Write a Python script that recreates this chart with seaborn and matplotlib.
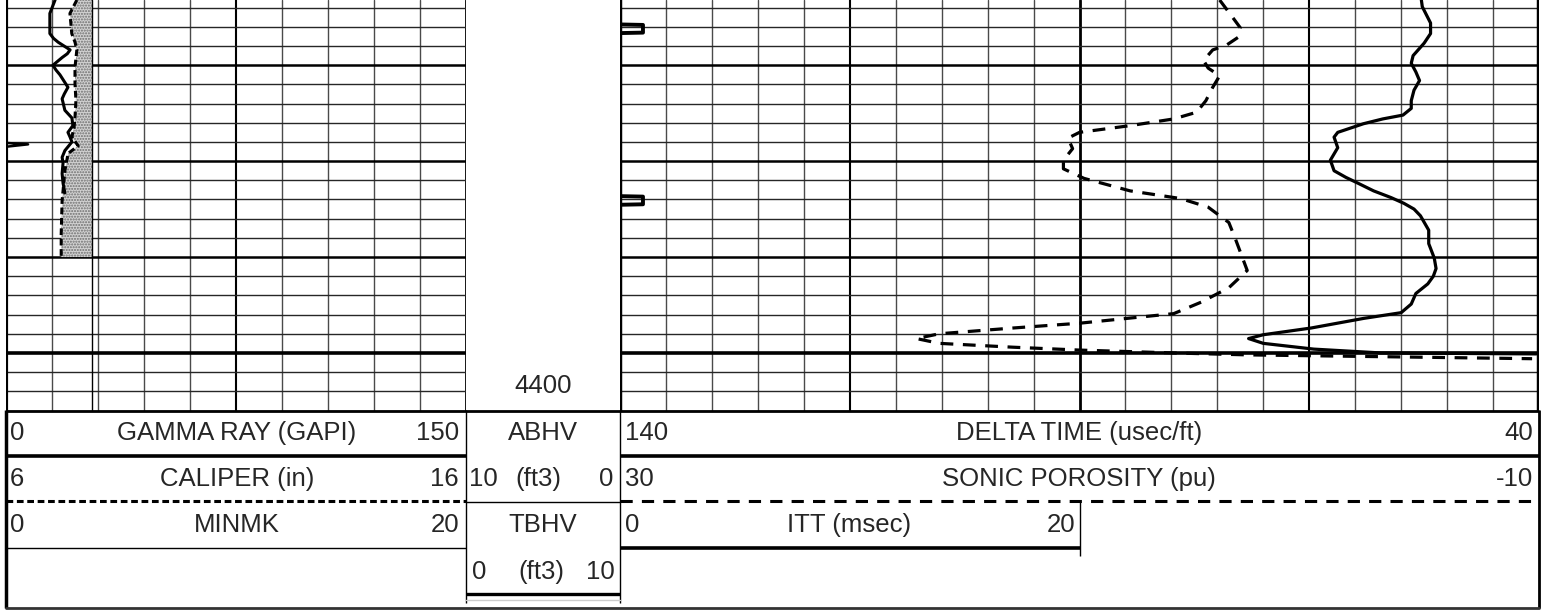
import numpy as np
import matplotlib.pyplot as plt
import seaborn as sns

sns.set_style('white')
plt.rcParams['font.family'] = ['Liberation Sans', 'DejaVu Sans']

# depth window (ft)
top_depth = 4363.2
bottom_depth = 4406.0

# track 1 curves
gr_depth = [4363.2, 4364.6, 4366.7, 4367.2, 4367.6, 4368.4, 4368.8, 4369.2, 4370.0, 4370.5,
            4371.0, 4372.3, 4373.0, 4373.5, 4374.7, 4375.5, 4376.3, 4377.0, 4377.5, 4378.0,
            4378.9, 4379.6, 4380.2, 4381.3, 4382.3, 4383.3]
gr_value = [16.0, 14.3, 14.3, 15.5, 17.0, 20.9, 20.0, 18.3, 15.3, 16.3,
            17.6, 20.2, 19.0, 18.3, 19.2, 21.5, 21.8, 20.2, 20.9, 21.5,
            19.2, 18.3, 18.6, 18.3, 18.6, 19.2]

cal_depth = [4363.2, 4364.6, 4366.7, 4367.6, 4368.4, 4370.2, 4371.9, 4373.7, 4375.4, 4376.5,
             4377.5, 4378.4, 4379.2, 4381.0, 4383.1, 4384.1, 4387.6, 4390.0]
cal_value = [7.54, 7.39, 7.43, 7.50, 7.54, 7.50, 7.50, 7.52, 7.50, 7.48,
             7.43, 7.57, 7.35, 7.28, 7.24, 7.22, 7.20, 7.20]
bit_size = 7.875

minmk_depth = [4363.2, 4378.1, 4378.25, 4378.5, 4406.0]
minmk_value = [0, 0, 0.96, 0, 0]

# track 3 curves
dt_depth = [4363.2, 4363.9, 4365.6, 4366.7, 4367.7, 4369.0, 4369.8, 4370.7, 4371.6, 4372.6,
            4373.7, 4374.5, 4375.2, 4375.6, 4376.1, 4377.0, 4377.5, 4378.6, 4379.9, 4381.0,
            4381.7, 4382.3, 4383.1, 4383.8, 4384.4, 4385.0, 4385.7, 4387.2, 4388.6, 4390.1,
            4391.2, 4392.0, 4392.8, 4393.8, 4394.9, 4395.8, 4396.4, 4397.4, 4398.1, 4398.5,
            4399.0, 4399.6, 4400.0, 4400.1]
dt_value = [52.8, 52.7, 51.8, 51.8, 52.5, 53.7, 53.9, 53.4, 53.0, 53.6,
            53.9, 53.9, 54.8, 57.0, 59.1, 61.9, 62.3, 61.9, 62.7, 62.3,
            61.0, 59.7, 58.0, 56.1, 54.7, 53.6, 52.9, 52.0, 52.0, 51.4,
            51.2, 51.5, 52.1, 53.4, 53.9, 55.0, 59.1, 64.8, 70.0, 71.6,
            70.0, 64.5, 57.2, 40.3]

sphi_depth = [4363.2, 4364.8, 4366.1, 4367.1, 4367.9, 4368.4, 4369.5, 4370.3, 4371.1, 4372.3,
              4373.7, 4374.9, 4375.6, 4376.3, 4377.0, 4377.6, 4378.7, 4379.9, 4380.8, 4381.8,
              4383.1, 4383.9, 4384.8, 4386.4, 4388.2, 4391.4, 4393.2, 4394.7, 4395.9, 4396.9,
              4397.4, 4398.0, 4398.5, 4399.0, 4399.4, 4399.7, 4400.0, 4400.2, 4400.6]
sphi_value = [3.9, 3.4, 3.0, 3.1, 3.6, 4.2, 4.6, 4.4, 3.9, 4.2,
              4.5, 4.9, 5.9, 7.8, 10.0, 10.5, 10.3, 10.7, 10.7, 9.8,
              7.8, 5.6, 4.4, 3.5, 3.2, 2.7, 3.5, 4.7, 5.9, 10.0,
              12.9, 16.1, 17.1, 16.1, 12.9, 10.0, 5.9, 2.7, -9.7]

itt_pip_depth = [4366.2, 4384.1]
itt_pip_value = [1.0, 1.0]

W, H = 1553, 610
fig = plt.figure(figsize=(W / 100, H / 100), dpi=100)


def box(x0, x1, y0, y1):
    return [x0 / W, 1 - y1 / H, (x1 - x0) / W, (y1 - y0) / H]


def grid_track(ax, ndiv):
    ax.set_xlim(0, ndiv)
    ax.set_ylim(bottom_depth, top_depth)
    for i in range(ndiv + 1):
        if i % 10 == 0:
            ax.axvline(i, color='black', lw=2.0, zorder=1)
        elif i % 5 == 0:
            ax.axvline(i, color='black', lw=1.5, zorder=1)
        else:
            ax.axvline(i, color='#4a4a4a', lw=1.0, zorder=1)
    for d in range(4364, 4407, 2):
        if d % 100 == 0:
            ax.axhline(d, color='black', lw=2.6, zorder=1)
        elif d % 10 == 0:
            ax.axhline(d, color='black', lw=1.8, zorder=1)
        else:
            ax.axhline(d, color='#262626', lw=1.0, zorder=1)


def clean(ax):
    ax.set_xticks([])
    ax.set_yticks([])
    ax.set_xlabel('')
    ax.set_ylabel('')
    for s in ax.spines.values():
        s.set_visible(False)
    ax.patch.set_alpha(0)


# ---- track 1 ----
ax1 = fig.add_axes(box(6, 466, 0, 410.5))
grid_track(ax1, 10)
ax1.axvline(0, color='black', lw=3.0, zorder=2)
clean(ax1)

ax_cal = ax1.twiny()
ax_cal.set_xlim(6, 16)
ax_cal.fill_betweenx(cal_depth, cal_value, bit_size, facecolor='#d2d2d2',
                     edgecolor='#6e6e6e', hatch='......', linewidth=0, zorder=2)
ax_cal.axvline(bit_size, color='black', lw=1.0, zorder=3)
sns.lineplot(x=cal_value, y=cal_depth, ax=ax_cal, sort=False, estimator=None,
             color='black', lw=2.2, linestyle=(0, (2.2, 1.2)), legend=False, zorder=4)
ax_cal.set_ylim(bottom_depth, top_depth)
clean(ax_cal)

ax_gr = ax1.twiny()
ax_gr.set_xlim(0, 150)
sns.lineplot(x=gr_value, y=gr_depth, ax=ax_gr, sort=False, estimator=None,
             color='black', lw=2.2, legend=False, zorder=4)
ax_gr.set_ylim(bottom_depth, top_depth)
clean(ax_gr)

ax_mm = ax1.twiny()
ax_mm.set_xlim(0, 20)
sns.lineplot(x=minmk_value, y=minmk_depth, ax=ax_mm, sort=False, estimator=None,
             color='black', lw=1.8, legend=False, zorder=4)
ax_mm.set_ylim(bottom_depth, top_depth)
clean(ax_mm)

fs = 18.5

# ---- depth track ----
axd = fig.add_axes(box(466, 620, 0, 410.5))
axd.set_xlim(0, 1)
axd.set_ylim(bottom_depth, top_depth)
axd.text(0.5, 4403.45, '4400', ha='center', va='center', fontsize=fs)
clean(axd)

# ---- track 3 ----
ax3 = fig.add_axes(box(620, 1539, 0, 410.5))
grid_track(ax3, 20)
ax3.axvline(0, color='black', lw=3.2, zorder=2)
ax3.axvline(20, color='black', lw=3.2, zorder=2)
clean(ax3)

ax_dt = ax3.twiny()
ax_dt.set_xlim(140, 40)
sns.lineplot(x=dt_value, y=dt_depth, ax=ax_dt, sort=False, estimator=None,
             color='black', lw=2.3, legend=False, zorder=4)
ax_dt.set_ylim(bottom_depth, top_depth)
clean(ax_dt)

ax_sp = ax3.twiny()
ax_sp.set_xlim(30, -10)
sns.lineplot(x=sphi_value, y=sphi_depth, ax=ax_sp, sort=False, estimator=None,
             color='black', lw=2.3, linestyle=(0, (4, 3)), legend=False, zorder=4)
ax_sp.set_ylim(bottom_depth, top_depth)
clean(ax_sp)

ax_itt = ax3.twiny()
ax_itt.set_xlim(0, 40)
for d, v in zip(itt_pip_depth, itt_pip_value):
    ax_itt.plot([0, v, v, 0], [d - 0.45, d - 0.4, d + 0.4, d + 0.45],
                color='black', lw=2.8, solid_joinstyle='round', zorder=4)
ax_itt.set_ylim(bottom_depth, top_depth)
clean(ax_itt)

# ---- header ----
hdr = fig.add_axes([0, 0, 1, 1])
hdr.set_xlim(0, W)
hdr.set_ylim(H, 0)
hdr.axis('off')
hdr.patch.set_alpha(0)

k = dict(color='black', solid_capstyle='butt')
hdr.plot([6, 1539], [410.5, 410.5], lw=2.0, **k)
hdr.plot([6, 6], [410, 608], lw=2.5, **k)
hdr.plot([1539, 1539], [410, 608], lw=2.0, **k)
hdr.plot([6, 1539], [607.5, 607.5], lw=2.0, color='#333333')
# track 1 rows
hdr.plot([6, 466], [455.5, 455.5], lw=2.6, **k)
hdr.plot([6, 466], [501, 501], lw=2.2, color='black', linestyle=(0, (2.2, 1.2)))
hdr.plot([6, 466], [548, 548], lw=1.0, **k)
# depth track
hdr.plot([466, 466], [410, 603], lw=1.0, **k)
hdr.plot([620, 620], [410, 603], lw=1.0, **k)
hdr.plot([466, 620], [501.5, 501.5], lw=1.0, **k)
hdr.plot([466, 620], [594, 594], lw=2.4, **k)
hdr.plot([466, 620], [600, 600], lw=1.0, color='#cccccc')
# track 3 rows
hdr.plot([620, 1539], [455.5, 455.5], lw=2.6, **k)
hdr.plot([620, 1539], [501, 501], lw=2.2, color='black', linestyle=(0, (4, 3)))
hdr.plot([620, 1080], [547.5, 547.5], lw=2.6, **k)
hdr.plot([1080, 1080], [501, 556], lw=1.0, **k)

rows = [(433, 'GAMMA RAY (GAPI)', '0', '150'),
        (479, 'CALIPER (in)', '6', '16'),
        (525, 'MINMK', '0', '20')]
for y, name, lo, hi in rows:
    hdr.text(10, y, lo, ha='left', va='center', fontsize=fs)
    hdr.text(237, y, name, ha='center', va='center', fontsize=fs)
    hdr.text(459, y, hi, ha='right', va='center', fontsize=fs)

hdr.text(543, 433, 'ABHV', ha='center', va='center', fontsize=fs)
hdr.text(469, 479, '10', ha='left', va='center', fontsize=fs)
hdr.text(538, 479, '(ft3)', ha='center', va='center', fontsize=fs)
hdr.text(613, 479, '0', ha='right', va='center', fontsize=fs)
hdr.text(543, 525, 'TBHV', ha='center', va='center', fontsize=fs)
hdr.text(472, 572, '0', ha='left', va='center', fontsize=fs)
hdr.text(541, 572, '(ft3)', ha='center', va='center', fontsize=fs)
hdr.text(615, 572, '10', ha='right', va='center', fontsize=fs)

rows3 = [(433, 'DELTA TIME (usec/ft)', '140', '40'),
         (479, 'SONIC POROSITY (pu)', '30', '-10')]
for y, name, lo, hi in rows3:
    hdr.text(625, y, lo, ha='left', va='center', fontsize=fs)
    hdr.text(1079, y, name, ha='center', va='center', fontsize=fs)
    hdr.text(1533, y, hi, ha='right', va='center', fontsize=fs)
hdr.text(625, 525, '0', ha='left', va='center', fontsize=fs)
hdr.text(849, 525, 'ITT (msec)', ha='center', va='center', fontsize=fs)
hdr.text(1075, 525, '20', ha='right', va='center', fontsize=fs)

fig.savefig('out.png', dpi=100, facecolor='white')
